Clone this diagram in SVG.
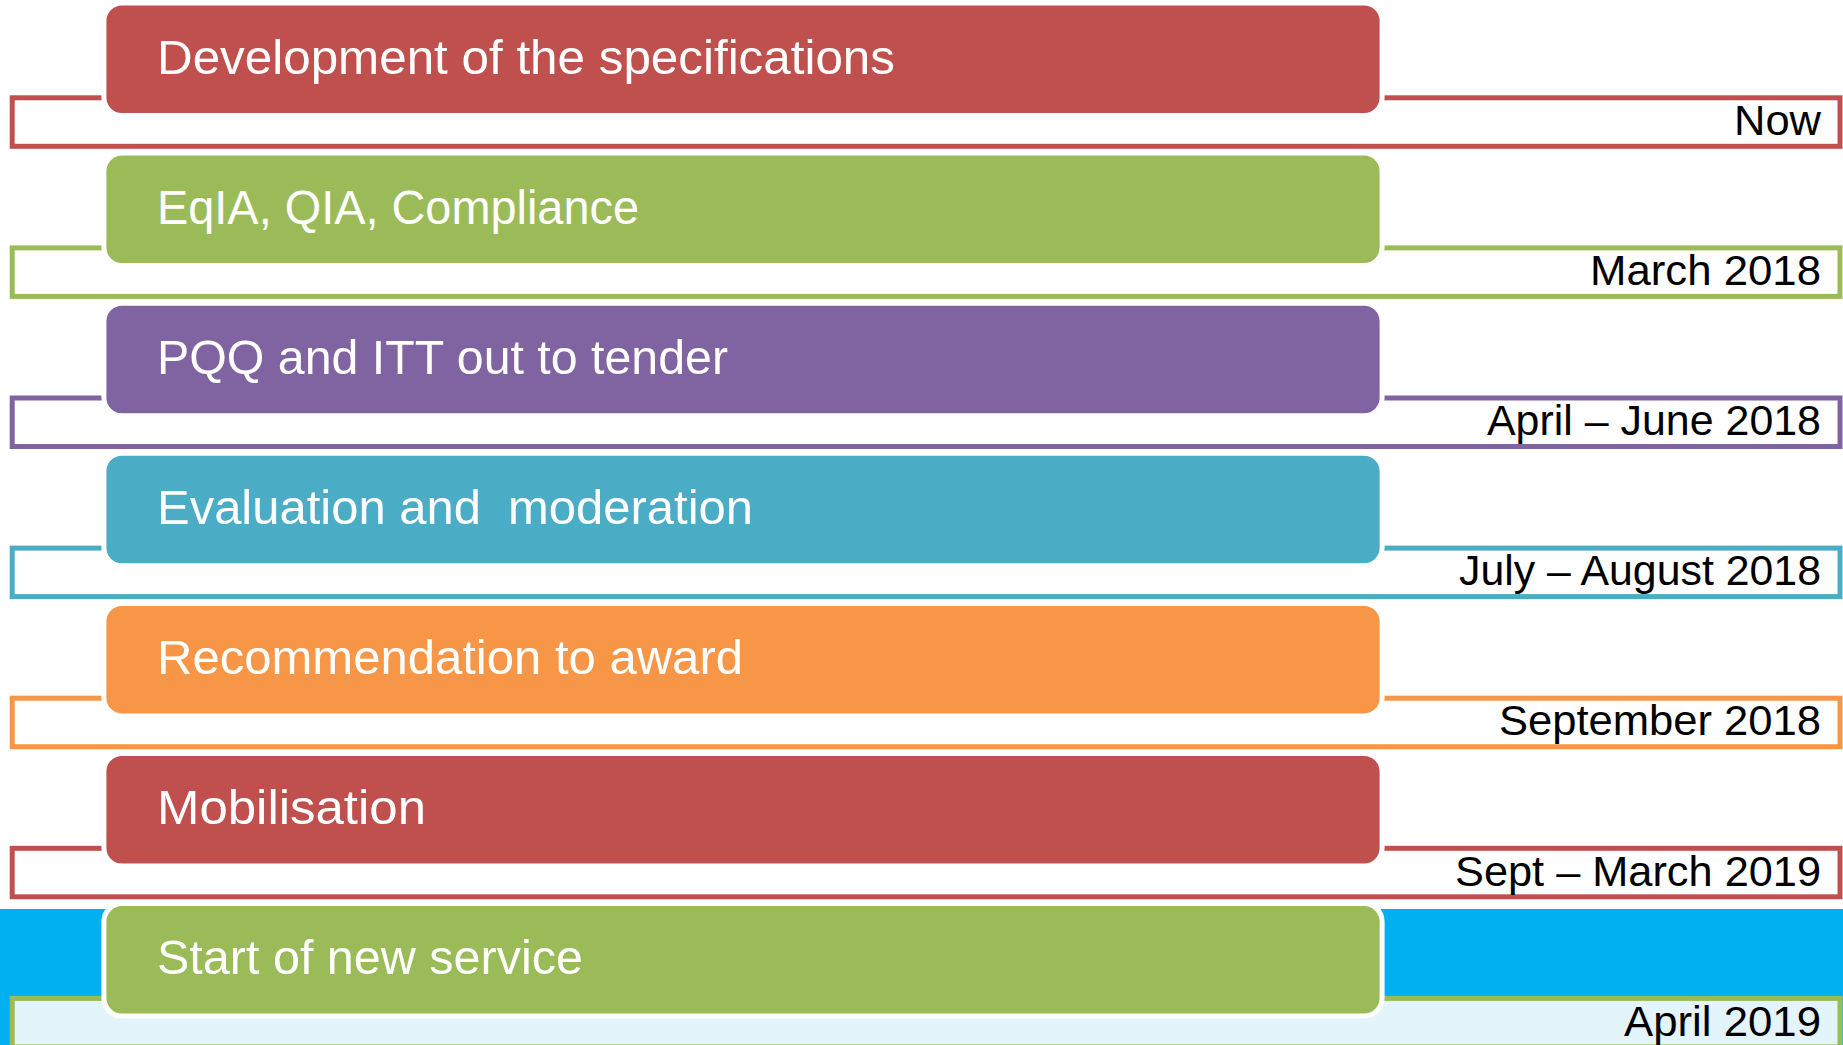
<svg xmlns="http://www.w3.org/2000/svg" width="1843" height="1045" viewBox="0 0 1843 1045">
<style>
.bk{fill:none;stroke-width:5}
.box{stroke:#FFFFFF;stroke-width:5}
.lbl{font-family:"Liberation Sans",Arial,sans-serif;font-size:48px;fill:#FFFFFF}
.dt{font-family:"Liberation Sans",Arial,sans-serif;font-size:42px;fill:#000000;text-anchor:end}
</style>
<rect x="0" y="909" width="1843" height="136" fill="#00B0F0"/>
<g id="connectors">
<rect class="bk" x="12.2" y="97.8" width="1827.8" height="48.5" stroke="#C0504D"/>
<rect class="bk" x="12.2" y="247.9" width="1827.8" height="48.5" stroke="#9BBB59"/>
<rect class="bk" x="12.2" y="398" width="1827.8" height="48.5" stroke="#8064A2"/>
<rect class="bk" x="12.2" y="548.1" width="1827.8" height="48.5" stroke="#4BACC6"/>
<rect class="bk" x="12.2" y="698.2" width="1827.8" height="48.5" stroke="#F79646"/>
<rect class="bk" x="12.2" y="848.3" width="1827.8" height="48.5" stroke="#C0504D"/>
<rect class="bk" x="12.2" y="998.4" width="1827.8" height="48.5" stroke="#9BBB59" style="fill:#E4F4FB"/>
</g>
<g id="n1">
<rect class="box" x="103.9" y="3" width="1278.2" height="112.5" rx="18" fill="#C0504D"/>
<text class="lbl" x="157" y="73.5" textLength="738" lengthAdjust="spacingAndGlyphs">Development of the specifications</text>
<text class="dt" x="1821" y="135" textLength="87" lengthAdjust="spacingAndGlyphs">Now</text>
</g>
<g id="n2">
<rect class="box" x="103.9" y="153.1" width="1278.2" height="112.5" rx="18" fill="#9BBB59"/>
<text class="lbl" x="157" y="223.6" textLength="482" lengthAdjust="spacingAndGlyphs">EqIA, QIA, Compliance</text>
<text class="dt" x="1821" y="285.1" textLength="231" lengthAdjust="spacingAndGlyphs">March 2018</text>
</g>
<g id="n3">
<rect class="box" x="103.9" y="303.2" width="1278.2" height="112.5" rx="18" fill="#8064A2"/>
<text class="lbl" x="157" y="373.7" textLength="571" lengthAdjust="spacingAndGlyphs">PQQ and ITT out to tender</text>
<text class="dt" x="1821" y="435.2" textLength="334" lengthAdjust="spacingAndGlyphs">April – June 2018</text>
</g>
<g id="n4">
<rect class="box" x="103.9" y="453.3" width="1278.2" height="112.5" rx="18" fill="#4BACC6"/>
<text class="lbl" x="157" y="523.8" textLength="596" lengthAdjust="spacingAndGlyphs" xml:space="preserve">Evaluation and  moderation</text>
<text class="dt" x="1821" y="585.3" textLength="362" lengthAdjust="spacingAndGlyphs">July – August 2018</text>
</g>
<g id="n5">
<rect class="box" x="103.9" y="603.4" width="1278.2" height="112.5" rx="18" fill="#F79646"/>
<text class="lbl" x="157" y="673.9" textLength="586" lengthAdjust="spacingAndGlyphs">Recommendation to award</text>
<text class="dt" x="1821" y="735.4" textLength="322" lengthAdjust="spacingAndGlyphs">September 2018</text>
</g>
<g id="n6">
<rect class="box" x="103.9" y="753.5" width="1278.2" height="112.5" rx="18" fill="#C0504D"/>
<text class="lbl" x="157" y="824" textLength="269" lengthAdjust="spacingAndGlyphs">Mobilisation</text>
<text class="dt" x="1821" y="885.5" textLength="366" lengthAdjust="spacingAndGlyphs">Sept – March 2019</text>
</g>
<g id="n7">
<rect class="box" x="103.9" y="903.6" width="1278.2" height="112.5" rx="18" fill="#9BBB59"/>
<text class="lbl" x="157" y="974.1" textLength="426" lengthAdjust="spacingAndGlyphs">Start of new service</text>
<text class="dt" x="1821" y="1035.6" textLength="197" lengthAdjust="spacingAndGlyphs">April 2019</text>
</g>
</svg>
